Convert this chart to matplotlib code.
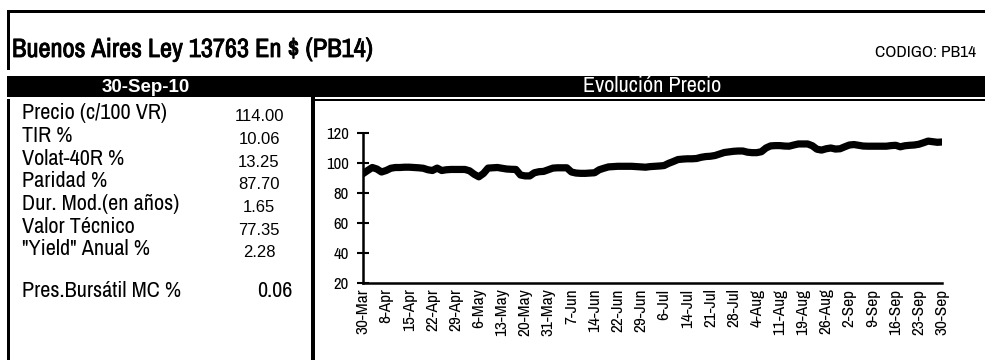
import matplotlib
matplotlib.use("Agg")
import matplotlib.pyplot as plt
import matplotlib.patheffects as pe
from matplotlib import font_manager
from matplotlib.patches import Rectangle

names = set(f.name for f in font_manager.fontManager.ttflist)
NARROW = 'DejaVu Sans'
for cand in ['Liberation Sans Narrow', 'Arial Narrow', 'Archivo Narrow', 'PT Sans Narrow', 'Roboto Condensed']:
    if cand in names:
        NARROW = cand
        break
ARIAL = 'Liberation Sans'

W, H = 985, 360

title = "Buenos Aires Ley 13763 En $ (PB14)"
codigo = "CODIGO: PB14"
fecha = "30-Sep-10"
panel_title = "Evolución Precio"

row_labels = ["Precio (c/100 VR)", "TIR %", "Volat-40R %", "Paridad %",
              "Dur. Mod.(en años)", "Valor Técnico", "\"Yield\" Anual %"]
row_values = ["114.00", "10.06", "13.25", "87.70", "1.65", "77.35", "2.28"]
pres_label = "Pres.Bursátil MC %"
pres_value = "0.06"

tick_labels = ["30-Mar", "8-Apr", "15-Apr", "22-Apr", "29-Apr", "6-May", "13-May",
               "20-May", "31-May", "7-Jun", "14-Jun", "22-Jun", "29-Jun", "6-Jul",
               "14-Jul", "21-Jul", "28-Jul", "4-Aug", "11-Aug", "19-Aug", "26-Aug",
               "2-Sep", "9-Sep", "16-Sep", "23-Sep", "30-Sep"]

precio = [92.9, 95.0, 97.0, 96.0, 94.0, 95.0, 96.5, 97.0, 97.0, 97.2,
          97.2, 97.0, 96.8, 96.5, 95.5, 95.0, 96.6, 95.0, 95.5, 95.7,
          95.7, 95.7, 95.7, 94.8, 92.5, 90.8, 93.0, 96.6, 96.8, 97.0,
          96.5, 96.0, 95.8, 95.7, 92.0, 91.4, 91.4, 93.5, 94.2, 94.4,
          95.5, 96.6, 96.8, 96.8, 96.8, 94.0, 93.3, 93.1, 93.1, 93.3,
          93.5, 95.5, 96.5, 97.4, 97.6, 97.8, 97.8, 97.8, 97.8, 97.6,
          97.4, 97.2, 97.6, 97.8, 98.0, 98.3, 99.8, 101.0, 102.3, 102.6,
          102.8, 102.8, 103.0, 103.8, 104.3, 104.5, 105.0, 106.0, 107.0, 107.4,
          107.8, 108.0, 108.0, 107.2, 106.9, 106.9, 107.5, 110.0, 111.4, 111.6,
          111.6, 111.3, 111.2, 112.0, 112.7, 112.7, 112.7, 111.5, 109.2, 108.6,
          109.5, 110.0, 109.3, 109.5, 110.8, 112.0, 112.3, 111.8, 111.3, 111.2,
          111.2, 111.2, 111.2, 111.2, 111.6, 111.8, 110.8, 111.5, 111.8, 112.0,
          112.5, 113.5, 114.6, 114.2, 113.8, 114.0]


def fx(x):
    return x / W


def fy(y):
    return 1 - y / H


fig = plt.figure(figsize=(W / 100, H / 100), dpi=100)


def box(x0, y0, x1, y1):
    fig.add_artist(Rectangle((fx(x0), fy(y1)), fx(x1) - fx(x0), fy(y0) - fy(y1),
                             transform=fig.transFigure, color='black', lw=0))


# frame pieces
box(7, 10, 985, 13)      # top border
box(7, 10, 10, 70)       # left border title
box(7, 76, 985, 97)      # black band
box(7, 99, 10, 360)      # table left border
box(311, 97, 315, 360)   # table right border
box(315, 99, 985, 101)   # panel top line

fig.text(fx(12), fy(57), title, fontsize=19, family=NARROW, va='baseline', ha='left',
         path_effects=[pe.withStroke(linewidth=0.6, foreground='black')])
fig.text(fx(976), fy(57), codigo, fontsize=12.5, family=NARROW, va='baseline', ha='right')
fig.text(fx(146), fy(92), fecha, fontsize=13.5, family=ARIAL, fontweight='bold',
         color='white', va='baseline', ha='center')
fig.text(fx(652), fy(92), panel_title, fontsize=16, family=NARROW,
         color='white', va='baseline', ha='center')

row_y = [119, 142, 165, 187, 210, 233, 255]
for lab, val, y in zip(row_labels, row_values, row_y):
    fig.text(fx(22), fy(y), lab, fontsize=16, family=NARROW, va='baseline', ha='left')
    fig.text(fx(259), fy(y + 2), val, fontsize=12, family=ARIAL, va='baseline', ha='center')
fig.text(fx(22), fy(297), pres_label, fontsize=16, family=NARROW, va='baseline', ha='left')
fig.text(fx(292), fy(297), pres_value, fontsize=16, family=NARROW, va='baseline', ha='right')

# chart
ax = fig.add_axes([fx(363), fy(283), fx(942) - fx(363), fy(133) - fy(283)])
x = list(range(len(precio)))
ax.plot(x, precio, color='black', lw=5.2, solid_joinstyle='round', solid_capstyle='round')
ax.set_xlim(0, len(precio) - 1)
ax.set_ylim(20, 120)
ax.set_yticks([20, 40, 60, 80, 100, 120])
ax.set_xticks(range(0, len(precio), 5))
ax.set_xticklabels(tick_labels, rotation=90, family=NARROW, fontsize=12.5)
for lab in ax.get_yticklabels():
    lab.set_family(NARROW)
    lab.set_fontsize(12)
ax.tick_params(axis='y', direction='inout', length=8, width=1.5, pad=6)
ax.tick_params(axis='x', length=0, pad=4)
for s in ['top', 'right']:
    ax.spines[s].set_visible(False)
ax.spines['left'].set_linewidth(1.8)
ax.spines['bottom'].set_linewidth(1.8)
ax.patch.set_alpha(0)

fig.savefig('out.png', dpi=100)
